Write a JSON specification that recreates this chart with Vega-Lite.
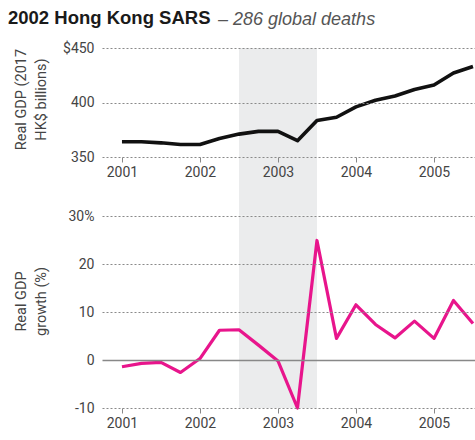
{
  "$schema": "https://vega.github.io/schema/vega-lite/v6.json",
  "background": "white",
  "padding": {"left": 8, "top": 8, "right": 0, "bottom": 0},
  "title": {"text": "2002 Hong Kong SARS", "anchor": "start", "font": "Liberation Sans", "fontSize": 18.5, "fontWeight": "bold", "color": "#1a1a1a", "baseline": "alphabetic", "offset": 0, "dy": 31, "dx": -5},
  "datasets": {
    "quarters": [
      {"t": 2001.0, "gdp": 364, "growth": -1.4},
      {"t": 2001.25, "gdp": 364, "growth": -0.7},
      {"t": 2001.5, "gdp": 363, "growth": -0.5},
      {"t": 2001.75, "gdp": 361.5, "growth": -2.6},
      {"t": 2002.0, "gdp": 361.5, "growth": 0.3},
      {"t": 2002.25, "gdp": 367, "growth": 6.2},
      {"t": 2002.5, "gdp": 371, "growth": 6.3},
      {"t": 2002.75, "gdp": 373.5, "growth": 3.1},
      {"t": 2003.0, "gdp": 373.5, "growth": -0.2},
      {"t": 2003.25, "gdp": 365, "growth": -10},
      {"t": 2003.5, "gdp": 383.5, "growth": 24.9},
      {"t": 2003.75, "gdp": 386.5, "growth": 4.5},
      {"t": 2004.0, "gdp": 396, "growth": 11.5},
      {"t": 2004.25, "gdp": 402, "growth": 7.4},
      {"t": 2004.5, "gdp": 406, "growth": 4.6},
      {"t": 2004.75, "gdp": 412, "growth": 8.1},
      {"t": 2005.0, "gdp": 416, "growth": 4.5},
      {"t": 2005.25, "gdp": 427, "growth": 12.4},
      {"t": 2005.5, "gdp": 433, "growth": 7.6}
    ],
    "sars": [{"start": 2002.5, "end": 2003.5}]
  },
  "config": {
    "view": {"stroke": null},
    "font": "Roboto",
    "axis": {"labelFont": "Roboto", "titleFont": "Roboto", "labelFontSize": 14, "labelColor": "#444", "titleFontSize": 14.5, "titleColor": "#444", "titleFontWeight": "normal", "zindex": 1},
    "axisX": {"grid": false, "domain": false, "ticks": true, "tickSize": 5, "tickColor": "#888", "labelPadding": 3, "title": null},
    "axisY": {"domain": false, "ticks": false, "grid": true, "gridDash": [2, 2], "gridColor": "#8a8a8a", "gridWidth": 1.2, "labelPadding": 8, "titleLineHeight": 20, "titleX": -74, "titleAngle": -90}
  },
  "bounds": "flush",
  "spacing": 59,
  "vconcat": [
    {
      "width": 373,
      "height": 109,
      "title": {"text": "– 286 global deaths", "anchor": "start", "frame": "group", "font": "Liberation Sans", "fontStyle": "italic", "fontWeight": "normal", "fontSize": 18, "color": "#555", "dx": 116, "baseline": "alphabetic", "offset": -2},
      "layer": [
        {
          "data": {"name": "sars"},
          "mark": {"type": "rect", "color": "#ebeced"},
          "encoding": {
            "x": {"field": "start", "type": "quantitative", "scale": {"domain": [2000.744, 2005.526], "nice": false, "zero": false}, "axis": {"values": [2001, 2002, 2003, 2004, 2005], "format": "d", "zindex": 1}},
            "x2": {"field": "end"},
            "y": {"datum": 450, "type": "quantitative", "scale": {"domain": [350, 450], "nice": false, "zero": false}, "axis": {"values": [350, 400, 450], "labelExpr": "datum.value === 450 ? '$450' : datum.label", "title": ["Real GDP (2017", "HK$ billions)"], "titleY": 51, "zindex": 1}},
            "y2": {"datum": 296}
          }
        },
        {
          "data": {"name": "quarters"},
          "mark": {"type": "line", "color": "#111", "strokeWidth": 3.6, "strokeJoin": "round"},
          "encoding": {
            "x": {"field": "t", "type": "quantitative"},
            "y": {"field": "gdp", "type": "quantitative"}
          }
        }
      ]
    },
    {
      "width": 373,
      "height": 192,
      "layer": [
        {
          "data": {"name": "sars"},
          "mark": {"type": "rect", "color": "#ebeced"},
          "encoding": {
            "x": {"field": "start", "type": "quantitative", "scale": {"domain": [2000.744, 2005.526], "nice": false, "zero": false}, "axis": {"values": [2001, 2002, 2003, 2004, 2005], "format": "d", "zindex": 1}},
            "x2": {"field": "end"},
            "y": {"datum": 30, "type": "quantitative", "scale": {"domain": [-10, 30], "nice": false, "zero": false}, "axis": {"values": [-10, 0, 10, 20, 30], "labelExpr": "datum.value === 30 ? '30%' : (datum.value < 0 ? '-' + abs(datum.value) : '' + datum.value)", "title": ["Real GDP", "growth (%)"], "titleY": 85, "zindex": 1, "gridDash": {"condition": {"test": "datum.value === 0", "value": []}, "value": [2, 2]}, "gridColor": {"condition": {"test": "datum.value === 0", "value": "#888"}, "value": "#8a8a8a"}, "gridWidth": {"condition": {"test": "datum.value === 0", "value": 1.5}, "value": 1.2}}},
            "y2": {"datum": -10}
          }
        },
        {
          "data": {"name": "quarters"},
          "mark": {"type": "line", "color": "#e8158c", "strokeWidth": 3.2, "strokeJoin": "round"},
          "encoding": {
            "x": {"field": "t", "type": "quantitative"},
            "y": {"field": "growth", "type": "quantitative"}
          }
        }
      ]
    }
  ]
}
